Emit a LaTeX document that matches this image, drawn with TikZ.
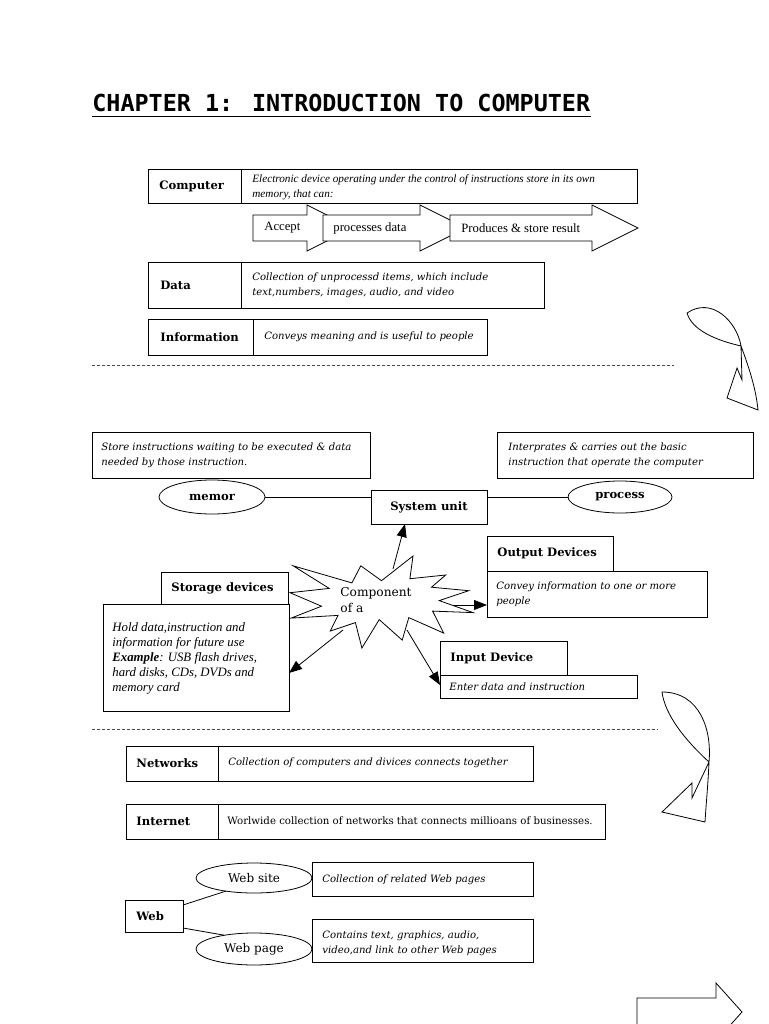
\documentclass[tikz,border=0pt]{standalone}
\usepackage{fontspec}
\setmainfont{Liberation Serif}
\newfontfamily\dvs{DejaVu Serif}
\newfontfamily\dvmono{DejaVu Sans Mono}
\usetikzlibrary{arrows.meta,shapes.geometric,calc}
\begin{document}
\begin{tikzpicture}[x=1pt,y=-1pt,line width=0.8pt,
  box/.style={draw, rectangle, inner sep=0pt, outer sep=0pt, anchor=north west, fill=white},
  oval/.style={draw, ellipse, inner sep=0pt, outer sep=0pt, fill=white},
  lbl/.style={font=\dvs\bfseries\fontsize{11.6}{13}\selectfont, inner sep=0pt, anchor=west},
  clbl/.style={font=\dvs\bfseries\fontsize{11.6}{13}\selectfont},
  cd/.style={font=\dvs\itshape\fontsize{10.1}{15}\selectfont, inner sep=0pt, align=left, anchor=west},
  td/.style={font=\itshape\fontsize{11.2}{15}\selectfont, inner sep=0pt, align=left, anchor=west},
  tr/.style={font=\fontsize{12.7}{15}\selectfont, inner sep=0pt, anchor=west},
  blockarrow/.style={draw, fill=white, line join=miter},
  arr/.style={-{Triangle[length=13pt,width=10pt]}},
  dashline/.style={draw=black!70, line width=0.6pt, dash pattern=on 3pt off 2pt},
  curvy/.style={draw, line width=0.8pt, line join=miter}]
\useasboundingbox (0,0) rectangle (768,1024);
\fill[white] (0,0) rectangle (768,1024);

% title
\node[font=\dvmono\bfseries\fontsize{23.4}{26}\selectfont, inner sep=0pt, anchor=base west] (title) at (92,112) {CHAPTER 1: INTRODUCTION TO COMPUTER};
\draw[line width=1.8pt] ($(title.base west)+(0,4.5)$) -- ($(title.base east)+(0,4.5)$);

% Computer
\node[box, minimum width=93pt, minimum height=34pt] (compL) at (148,169) {};
\node[box, minimum width=396pt, minimum height=34pt] (compD) at (241,169) {};
\node[lbl] (compT) at (159,186) {Computer};
\node[td] (compDT) at (252,187) {Electronic device operating under the control of instructions store in its own\\memory, that can:};

% block arrows
\draw[blockarrow] (253,215) -- (307,215) -- (307,205) -- (353,228) -- (307,251) -- (307,241) -- (253,241) -- cycle;
\draw[blockarrow] (323,215) -- (420,215) -- (420,205) -- (466,228) -- (420,251) -- (420,241) -- (323,241) -- cycle;
\draw[blockarrow] (450,215) -- (592,215) -- (592,205) -- (638,228) -- (592,251) -- (592,241) -- (450,241) -- cycle;
\node[tr] (accT) at (264,228) {Accept};
\node[tr] (procT) at (333,228) {processes data};
\node[tr] (prodT) at (461,228) {Produces \& store result};

% Data
\node[box, minimum width=93pt, minimum height=46pt] (dataL) at (148,262) {};
\node[box, minimum width=303pt, minimum height=46pt] (dataD) at (241,262) {};
\node[lbl] (dataT) at (160,285) {Data};
\node[cd] (dataDT) at (252,285.5) {Collection of unprocessd items, which include\\text,numbers, images, audio, and video};

% Information
\node[box, minimum width=105pt, minimum height=36pt] (infoL) at (148,319) {};
\node[box, minimum width=234pt, minimum height=36pt] (infoD) at (253,319) {};
\node[lbl] (infoT) at (160,337) {Information};
\node[cd] (infoDT) at (264,337) {Conveys meaning and is useful to people};

\draw[dashline] (92,365) -- (674,365);

% curved arrow 1
\draw[curvy] (687,313) .. controls (712,296) and (737,322) .. (741,346)
  .. controls (750,370) and (756,390) .. (758,410)
  -- (727,398) -- (737,368) -- (742,380) -- (741,346)
  .. controls (715,340) and (692,330) .. (687,313) -- cycle;

% middle section
\node[box, minimum width=278pt, minimum height=46pt] (memD) at (92,432) {};
\node[cd] (memDT) at (101,455.5) {Store instructions waiting to be executed \& data\\needed by those instruction.};
\node[box, minimum width=256pt, minimum height=46pt] (procD) at (497,432) {};
\node[cd] (procDT) at (508,455.5) {Interprates \& carries out the basic\\instruction that operate the computer};

\node[box, minimum width=116pt, minimum height=34pt] (sysU) at (371,490) {};
\node[clbl] (sysT) at (429,507) {System unit};
\node[oval, minimum width=106pt, minimum height=34pt, clbl] (memE) at (212,497) {memor};
\node[oval, minimum width=104pt, minimum height=32pt, clbl] (procE) at (620,497) {process};
\draw (memE.east) -- (memE.east -| sysU.west);
\draw (procE.west -| sysU.east) -- (procE.west);

\node[box, minimum width=126pt, minimum height=35pt] (outL) at (487,536) {};
\node[box, minimum width=220pt, minimum height=46pt] (outD) at (487,571) {};
\node[lbl] (outT) at (497,553) {Output Devices};
\node[cd] (outDT) at (496,594.5) {Convey information to one or more\\people};

\node[box, minimum width=127pt, minimum height=34pt] (inL) at (440,641) {};
\node[box, minimum width=197pt, minimum height=23pt] (inD) at (440,675) {};
\node[lbl] (inT) at (450,658) {Input Device};
\node[cd] (inDT) at (449,687) {Enter data and instruction};

\node[box, minimum width=127pt, minimum height=32pt] (stoL) at (161,572) {};
\node[box, minimum width=186pt, minimum height=107pt] (stoD) at (103,604) {};
\node[lbl] (stoT) at (171,588) {Storage devices};
\node[font=\itshape\fontsize{12.8}{15}\selectfont, inner sep=0pt, align=left, anchor=west] (stoDT) at (112,658) {Hold data,instruction and\\information for future use\\\textbf{Example}: USB flash drives,\\hard disks, CDs, DVDs and\\memory card};

% starburst
\draw[fill=white, line join=miter] (381.5,580.7) -- (413.0,556) -- (409.9,578.7) -- (445.7,575.0) -- (431.5,587.2) -- (468.7,590.7) -- (439.2,600.6) -- (473,612.6) -- (432.6,611.1) -- (443.7,633.1) -- (408.8,617.6) -- (402.2,640.1) -- (379.2,619.6) -- (361.9,648) -- (355.4,622.6) -- (330.3,631.0) -- (338.0,615.4) -- (291.1,618.1) -- (321.5,606.2) -- (290,592.7) -- (329.2,588.4) -- (293.1,565.8) -- (351.9,582.9) -- (360.8,565.8) -- cycle;
\node[font=\dvs\fontsize{12.2}{16}\selectfont, inner sep=0pt, align=left, anchor=west] (comp) at (340,600) {Component\\of a};

\coordinate (s1) at (393,569);
\coordinate (s2) at (453,605);
\coordinate (s3) at (343,630);
\coordinate (s4) at (407,630);
\draw[arr] (s1) -- ($(sysU.south west)+(34,0)$);
\draw[arr] (s2) -- ($(outD.south west)+(0,-12)$);
\draw[arr] (s3) -- ($(stoD.north east)+(0,69)$);
\draw[arr] (s4) -- ($(inD.north west)+(0,10)$);

\draw[dashline] (92,729) -- (658,729);

% curved arrow 2
\draw[curvy] (662,692) .. controls (700,692) and (712,730) .. (709,762)
  .. controls (708,785) and (706,805) .. (705,822)
  -- (662,812) -- (692,783) -- (692,798) -- (709,762)
  .. controls (685,740) and (665,715) .. (662,692) -- cycle;

% Networks / Internet
\node[box, minimum width=92pt, minimum height=35pt] (netL) at (126,746) {};
\node[box, minimum width=315pt, minimum height=35pt] (netD) at (218,746) {};
\node[lbl] (netT) at (136,763) {Networks};
\node[cd] (netDT) at (228,763) {Collection of computers and divices connects together};

\node[box, minimum width=92pt, minimum height=35pt] (intL) at (126,804) {};
\node[box, minimum width=387pt, minimum height=35pt] (intD) at (218,804) {};
\node[lbl] (intT) at (136,821) {Internet};
\node[font=\dvs\fontsize{10.2}{12}\selectfont, inner sep=0pt, anchor=west] (intDT) at (227,821) {Worlwide collection of networks that connects millioans of businesses.};

% Web
\node[box, minimum width=58pt, minimum height=32pt] (webB) at (125,900) {};
\node[lbl] (webT) at (136,916) {Web};
\node[oval, minimum width=116pt, minimum height=30pt, font=\dvs\fontsize{12}{14}\selectfont] (wsE) at (254,878) {Web site};
\node[oval, minimum width=116pt, minimum height=32pt, font=\dvs\fontsize{12}{14}\selectfont] (wpE) at (254,949) {Web page};
\node[box, minimum width=221pt, minimum height=34pt] (wsD) at (312,862) {};
\node[cd] (wsDT) at (322,880) {Collection of related Web pages};
\node[box, minimum width=221pt, minimum height=43pt] (wpD) at (312,919) {};
\node[cd] (wpDT) at (322,943) {Contains text, graphics, audio,\\video,and link to other Web pages};
\draw ($(webB.north east)+(0,5)$) -- (wsE.205);
\draw ($(webB.south east)+(0,-4)$) -- (wpE.155);

% bottom right arrow
\begin{scope}
\clip (0,0) rectangle (768,1024);
\draw[blockarrow] (637,1040) -- (637,998) -- (716,998) -- (716,983) -- (742,1012) -- (716,1041) -- (716,1026) -- (637,1026);
\end{scope}
\end{tikzpicture}
\end{document}
